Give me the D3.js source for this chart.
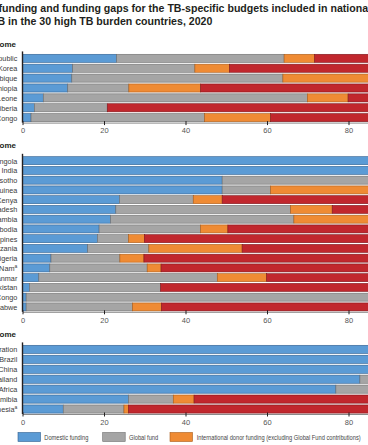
<!DOCTYPE html>
<html>
<head>
<meta charset="utf-8">
<script src="https://cdn.jsdelivr.net/npm/d3@7"></script>
<style>
  body { margin: 0; background: #fff; }
  svg { display: block; }
</style>
</head>
<body>
<svg id="chart" width="368" height="445"></svg>
<script>
// data (% of NSP budget)
const lowNames = ["Central African Republic", "Democratic People's Republic of Korea", "Mozambique", "Ethiopia", "Sierra Leone", "Liberia", "Democratic Republic of the Congo"];
const lowDomestic = [23.1, 12.3, 12.1, 11.1, 5.1, 2.9, 2.1];
const lowGlobal = [41.1, 30.0, 51.8, 15.0, 64.8, 17.9, 42.6];
const lowIntl = [7.5, 8.5, 36.1, 17.6, 10.0, 0, 16.2];
const lowGap = [28.3, 49.2, 0, 56.3, 20.1, 79.2, 39.1];

const lmNames = ["Angola", "India", "Lesotho", "Papua New Guinea", "Kenya", "Bangladesh", "Zambia", "Cambodia", "Philippines", "United Republic of Tanzania", "Nigeria", "Viet Nam|a", "Myanmar", "Pakistan", "Congo", "Zimbabwe"];
const lmDomestic = [100, 100, 49.0, 49.0, 23.8, 22.9, 21.6, 18.8, 18.4, 16.0, 7.0, 6.7, 4.0, 1.7, 0.9, 0.9];
const lmGlobal = [0, 0, 51.0, 11.9, 18.1, 42.9, 45.0, 24.9, 7.6, 15.0, 16.9, 23.9, 43.8, 32.2, 99.1, 26.1];
const lmIntl = [0, 0, 0, 39.1, 7.1, 10.2, 33.4, 6.7, 3.9, 22.9, 5.9, 3.4, 12.1, 0, 0, 7.1];
const lmGap = [0, 0, 0, 0, 51.0, 24.0, 0, 49.6, 70.1, 46.1, 70.2, 66.0, 40.1, 66.1, 0, 65.9];

const umNames = ["Russian Federation", "Brazil", "China", "Thailand", "South Africa", "Namibia", "Indonesia|a"];
const umDomestic = [100, 100, 100, 82.8, 76.9, 26.0, 10.0];
const umGlobal = [0, 0, 0, 17.2, 23.1, 11.0, 14.9];
const umIntl = [0, 0, 0, 0, 0, 5.1, 1.1];
const umGap = [0, 0, 0, 0, 0, 57.9, 74.0];

const ticks = [0, 20, 40, 60, 80, 100];
const seriesNames = ["Domestic funding", "Global fund", "International donor funding (excluding Global Fund contributions)", "Funding gap"];
const fills = ["#5b9bd5", "#a5a5a5", "#ef8b34", "#c1272d"];
const strokes = ["#2f5f8f", "#6e6e6e", "#a85a18", "#7d151a"];

const svg = d3.select("#chart");
const font = "'Liberation Sans Narrow', 'Liberation Sans', Arial, sans-serif";

// the source uses a condensed face; squeeze our font to the same widths
function squeeze(sel, factor) {
  sel.each(function () {
    const w = this.getComputedTextLength();
    d3.select(this).attr("textLength", w * factor).attr("lengthAdjust", "spacingAndGlyphs");
  });
}
function widthOf(str, size) {
  const t = svg.append("text").attr("font-family", font).attr("font-size", size).text(str);
  const w = t.node().getComputedTextLength();
  t.remove();
  return w;
}

// title, cropped at the left like the source
function croppedText(str, prefixLen, y, visibleX) {
  const t = svg.append("text")
    .attr("y", y)
    .attr("font-family", "'Liberation Sans', Arial, sans-serif")
    .attr("font-weight", "bold")
    .attr("font-size", 10.6)
    .attr("fill", "#231f20")
    .text(str);
  const w = prefixLen > 0 ? t.node().getSubStringLength(0, prefixLen) : 0;
  t.attr("x", visibleX - w);
}
const t1 = "Fig. 5.7 Sources of funding and funding gaps for the TB-specific budgets included in national";
const t2 = "strategic plans for TB in the 30 high TB burden countries, 2020";
croppedText(t1, t1.indexOf("funding and"), 12, -1.5);
croppedText(t2, t2.indexOf("B in the"), 25, -2.5);

const x = d3.scaleLinear().domain([0, 100]).range([22.5, 430]);

const sections = [
  { title: "Low income", names: lowNames, vals: [lowDomestic, lowGlobal, lowIntl, lowGap], top: 53.4, bottom: 122.6, head: 47 },
  { title: "Lower-middle income", names: lmNames, vals: [lmDomestic, lmGlobal, lmIntl, lmGap], top: 155.8, bottom: 311.8, head: 148 },
  { title: "Upper-middle income", names: umNames, vals: [umDomestic, umGlobal, umIntl, umGap], top: 344.4, bottom: 414, head: 337 }
];

sections.forEach(sec => {
  const y = d3.scaleBand().domain(sec.names).range([sec.top, sec.bottom]).paddingInner(0.18).paddingOuter(0.09);
  const g = svg.append("g");

  g.append("text")
    .attr("x", 16).attr("y", sec.head)
    .attr("text-anchor", "end")
    .attr("font-family", "'Liberation Sans', Arial, sans-serif")
    .attr("font-weight", "bold").attr("font-size", 8)
    .attr("fill", "#231f20")
    .text(sec.title);

  const rows = sec.names.map((n, i) => {
    let acc = 0;
    const segs = sec.vals.map((arr, k) => {
      const s = { k: k, x0: acc, x1: acc + arr[i] };
      acc += arr[i];
      return s;
    }).filter(s => s.x1 > s.x0);
    return { name: n, segs: segs };
  });

  const row = g.selectAll("g.row").data(rows).enter().append("g")
    .attr("class", "row")
    .attr("transform", d => "translate(0," + y(d.name) + ")");

  row.selectAll("rect").data(d => d.segs).enter().append("rect")
    .attr("x", s => x(s.x0))
    .attr("width", s => x(s.x1) - x(s.x0))
    .attr("height", y.bandwidth())
    .attr("fill", s => fills[s.k])
    .attr("stroke", s => strokes[s.k])
    .attr("stroke-width", 0.6);

  // country labels
  const plain = row.filter(d => !d.name.includes("|")).append("text")
    .attr("x", 17.3).attr("y", y.bandwidth() / 2 + 2.9)
    .attr("text-anchor", "end")
    .attr("font-family", font).attr("font-size", 7.9)
    .attr("fill", "#3a3a3a")
    .text(d => d.name);
  squeeze(plain, 0.92);

  // labels with a superscript note
  const noted = row.filter(d => d.name.includes("|")).append("text")
    .attr("x", 17.3).attr("y", y.bandwidth() / 2 + 2.9)
    .attr("text-anchor", "end")
    .attr("font-family", font).attr("font-size", 7.3)
    .attr("fill", "#3a3a3a");
  noted.append("tspan").text(d => d.name.split("|")[0]);
  noted.append("tspan")
    .attr("font-size", 5).attr("dy", -3)
    .text(d => d.name.split("|")[1]);

  // x axis
  const ax = g.append("g")
    .attr("transform", "translate(0," + sec.bottom + ")")
    .call(d3.axisBottom(x).tickValues(ticks).tickSize(2.5).tickSizeOuter(0).tickPadding(3));
  ax.select(".domain").attr("stroke", "#8a8a8a").attr("stroke-width", 1);
  ax.selectAll(".tick line").attr("stroke", "#231f20").attr("y1", -1.5);
  ax.selectAll(".tick text").attr("font-family", font).attr("font-size", 7.5).attr("fill", "#555");

  // y axis line
  g.append("line")
    .attr("x1", x(0)).attr("x2", x(0))
    .attr("y1", sec.top - 2).attr("y2", sec.bottom)
    .attr("stroke", "#231f20").attr("stroke-width", 1.4);
});

// legend
const legSize = 7;
const legFactor = 164 / widthOf(seriesNames[2], legSize);
const legX = [18, 102.7, 170, 380];
const leg = svg.append("g").selectAll("g").data(seriesNames).enter().append("g")
  .attr("transform", (d, i) => "translate(" + legX[i] + ",432.5)");
leg.append("rect")
  .attr("width", 22.5).attr("height", 9)
  .attr("fill", (d, i) => fills[i])
  .attr("stroke", (d, i) => strokes[i]).attr("stroke-width", 0.6);
const legText = leg.append("text")
  .attr("x", (d, i) => i === 2 ? 26.7 : 26.3).attr("y", 7.2)
  .attr("font-family", font).attr("font-size", legSize)
  .attr("fill", "#444")
  .text(d => d);
squeeze(legText, legFactor);
</script>
</body>
</html>
